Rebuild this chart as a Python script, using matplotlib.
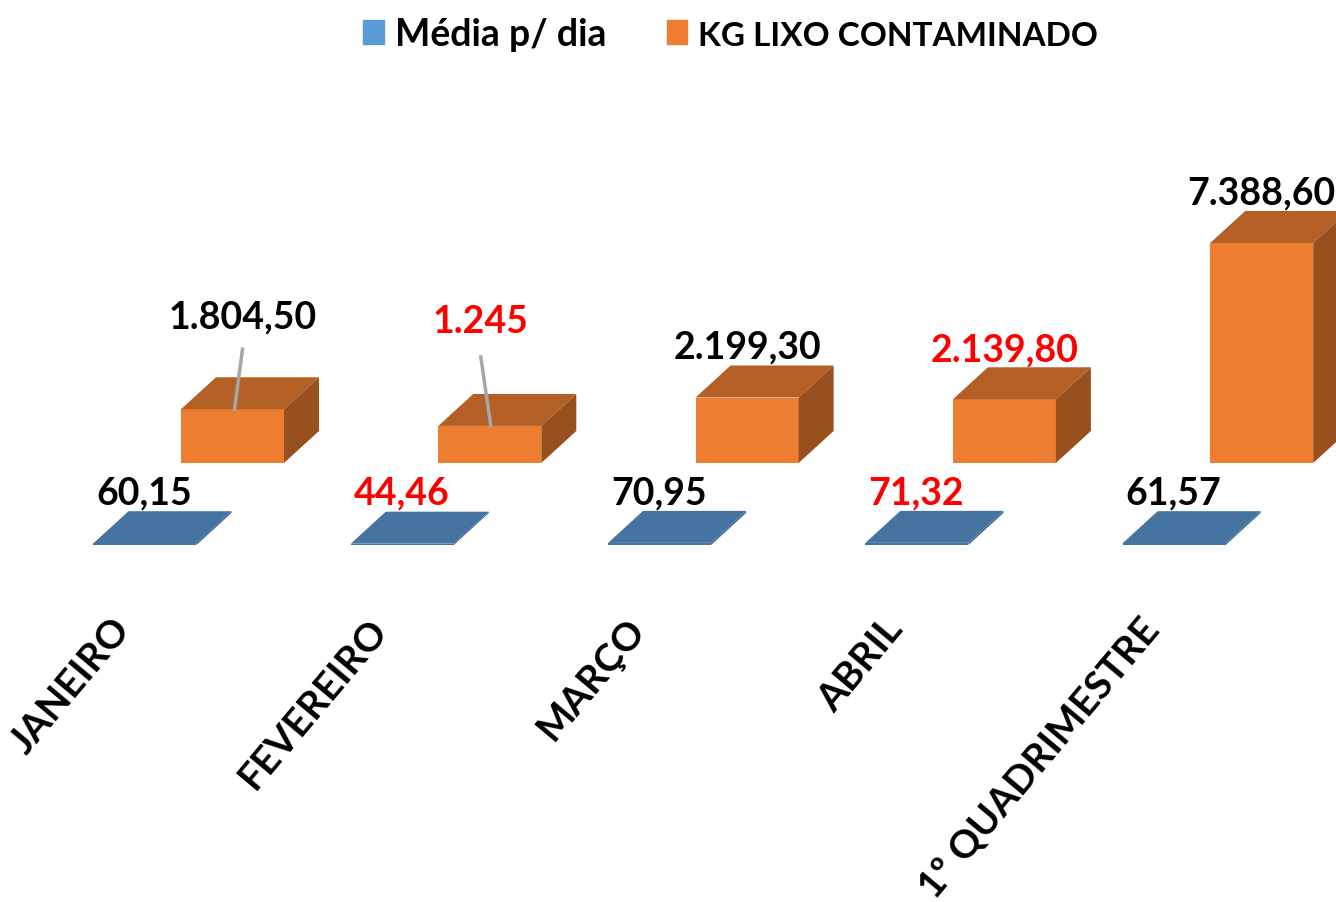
import matplotlib
matplotlib.use("Agg")
import matplotlib.pyplot as plt
from matplotlib.patches import Patch

categories = ["JANEIRO", "FEVEREIRO", "MARÇO", "ABRIL", "1º QUADRIMESTRE"]
media_dia = [60.15, 44.46, 70.95, 71.32, 61.57]
kg_lixo = [1804.50, 1245, 2199.30, 2139.80, 7388.60]
media_labels = ["60,15", "44,46", "70,95", "71,32", "61,57"]
kg_labels = ["1.804,50", "1.245", "2.199,30", "2.139,80", "7.388,60"]
label_colors = ["black", "red", "black", "red", "black"]

# scale of the picture: pixels per category and per kg
PX_CAT = 257.3
PX_KG = 0.02978
BAR_W = 103 / PX_CAT
DEPTH_X = 35 / PX_CAT
DEPTH_Y = 32 / PX_KG
ORANGE_X = 87.5 / PX_CAT
BLUE_BASE = -82 / PX_KG
FONT = "Lato"


def bar_3d(ax, x, base, value, front, top, side):
    left = x - BAR_W / 2
    right = x + BAR_W / 2
    high = base + value
    ax.bar(x, value, BAR_W, bottom=base, color=front, linewidth=0)
    ax.fill([left, left + DEPTH_X, right + DEPTH_X, right],
            [high, high + DEPTH_Y, high + DEPTH_Y, high], color=top, linewidth=0)
    ax.fill([right, right + DEPTH_X, right + DEPTH_X, right],
            [base, base + DEPTH_Y, high + DEPTH_Y, high], color=side, linewidth=0)


fig = plt.figure(figsize=(13.36, 9.02), dpi=100)
ax = fig.add_axes([0, 0, 1, 1])
ax.set_xlim(-145 / PX_CAT, (1336 - 145) / PX_CAT)
ax.set_ylim(-439 / PX_KG, 463 / PX_KG)
ax.axis("off")

for i in range(len(categories)):
    bar_3d(ax, i, BLUE_BASE, media_dia[i], "#44749F", "#44749F", "#3F6A90")
    bar_3d(ax, i + ORANGE_X, 0, kg_lixo[i], "#ED7D31", "#B45F25", "#99501F")

    ax.text(i - 1 / PX_CAT, BLUE_BASE + 52 / PX_KG, media_labels[i], color=label_colors[i],
            fontsize=27, fontweight="bold", family=FONT, ha="center", va="center")
    ax.text(i - 35 / PX_CAT, BLUE_BASE - 67 / PX_KG, categories[i], fontsize=28, fontweight="bold",
            family=FONT, rotation=50, rotation_mode="anchor", ha="right", va="top",
            color="black")

# orange labels sit above each box, the first two with a leader line
kg_dx = [10, -9, 0, 0, 0]
kg_dy = [92, 104, 50, 49, 49]
for i in range(len(categories)):
    x = i + ORANGE_X + kg_dx[i] / PX_CAT
    y = kg_lixo[i] + kg_dy[i] / PX_KG
    ax.text(x, y, kg_labels[i], color=label_colors[i], fontsize=27, fontweight="bold",
            family=FONT, ha="center", va="center", clip_on=True)

ax.plot([0 + ORANGE_X + 10 / PX_CAT, 0 + ORANGE_X + 2 / PX_CAT],
        [kg_lixo[0] + 60 / PX_KG, kg_lixo[0]], color="#A6A6A6", lw=2.5)
ax.plot([1 + ORANGE_X - 9 / PX_CAT, 1 + ORANGE_X + 1 / PX_CAT],
        [kg_lixo[1] + 69 / PX_KG, kg_lixo[1]], color="#A6A6A6", lw=2.5)

handles = [Patch(color="#5B9BD5", label="Média p/ dia"),
           Patch(color="#ED7D31", label="KG LIXO CONTAMINADO")]
leg = ax.legend(handles=handles, ncol=2, loc="upper center", bbox_to_anchor=(0.547, 1.018),
                frameon=False, handlelength=0.55, handleheight=0.62, handletextpad=0.3,
                columnspacing=1.6, prop={"family": FONT, "weight": "bold", "size": 27})
# the long entry is squeezed narrower in the original
leg.get_texts()[1].set_fontsize(24)

fig.savefig("out.png", dpi=100)
